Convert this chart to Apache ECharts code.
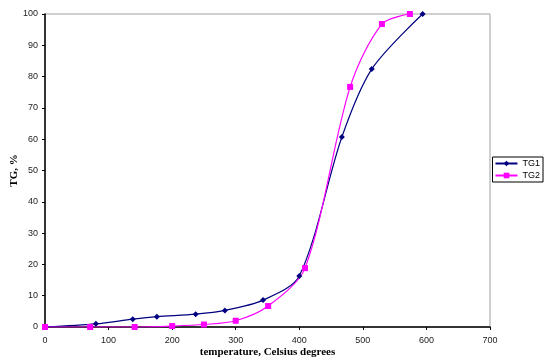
<!DOCTYPE html>
<html><head><meta charset="utf-8">
<script src="https://cdn.jsdelivr.net/npm/echarts@6/dist/echarts.min.js"></script>
<style>html,body{margin:0;padding:0;background:#fff}#c{width:544px;height:360px}</style>
</head><body><div id="c"></div>
<script>
var tg1X = [0, 80, 138, 176, 237, 283, 343, 400, 467, 514, 594];
var tg1Y = [0, 1.0, 2.5, 3.3, 4.1, 5.3, 8.6, 16.3, 60.7, 82.4, 100];
var tg2X = [0, 71, 141, 200, 250, 300, 351, 409, 480, 530, 574];
var tg2Y = [0, 0, 0, 0.3, 0.8, 2.0, 6.7, 18.8, 76.7, 96.8, 100];
function pairs(xs, ys){ return xs.map(function(x,i){return [x, ys[i]];}); }
var chart = echarts.init(document.getElementById('c'));
var lab = {color:'#222', fontFamily:'Liberation Sans, Arial', fontSize:9};
chart.setOption({
  animation:false,
  grid:{left:45, right:54, top:14, bottom:33, show:true, borderColor:'#a0a0a0', borderWidth:1,
        containLabel:false, outerBoundsMode:'none'},
  legend:{
    right:1, top:157, orient:'vertical', itemGap:3, itemWidth:22, itemHeight:7,
    borderColor:'#000', borderWidth:1, padding:[2,3,2,2],
    textStyle:{fontFamily:'Liberation Sans, Arial', fontSize:9, color:'#000'},
    data:['TG1','TG2']
  },
  xAxis:{type:'value', min:0, max:700, interval:100,
    name:'temperature, Celsius degrees', nameLocation:'middle', nameGap:20, nameMoveOverlap:false,
    nameTextStyle:{fontFamily:'Liberation Serif, Times New Roman', fontWeight:'bold', fontSize:11, color:'#000'},
    axisLine:{show:true, onZero:false, lineStyle:{color:'#000', width:1.5}},
    axisTick:{show:true, length:3, lineStyle:{color:'#000'}},
    axisLabel:Object.assign({margin:9}, lab),
    splitLine:{show:false}},
  yAxis:{type:'value', min:0, max:100, interval:10,
    name:'TG, %', nameLocation:'middle', nameGap:25, nameMoveOverlap:false,
    nameTextStyle:{fontFamily:'Liberation Serif, Times New Roman', fontWeight:'bold', fontSize:11, color:'#000'},
    axisLine:{show:true, lineStyle:{color:'#000', width:1.5}},
    axisTick:{show:true, length:3, lineStyle:{color:'#000'}},
    axisLabel:Object.assign({margin:7}, lab),
    splitLine:{show:false}},
  series:[
    {name:'TG1', type:'line', smooth:0.3, data:pairs(tg1X, tg1Y),
     symbol:'diamond', symbolSize:6, color:'#000080',
     lineStyle:{width:1.2, color:'#000080'}, itemStyle:{color:'#000080'}},
    {name:'TG2', type:'line', smooth:0.3, data:pairs(tg2X, tg2Y),
     symbol:'rect', symbolSize:6, color:'#ff00ff',
     lineStyle:{width:1.2, color:'#ff00ff'}, itemStyle:{color:'#ff00ff'}}
  ]
});
</script></body></html>
